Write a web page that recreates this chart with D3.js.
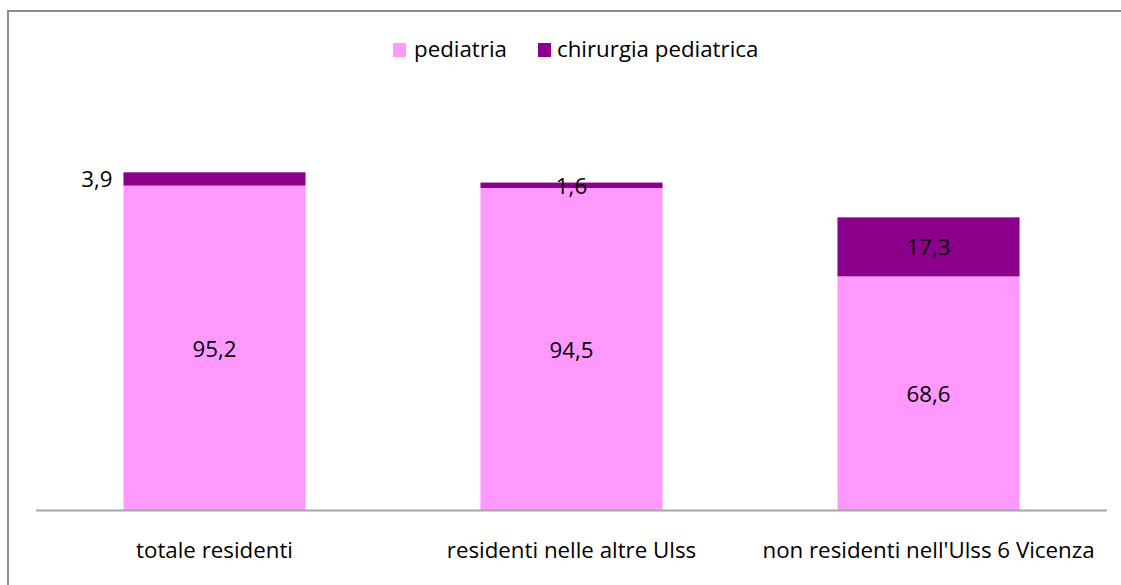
<!DOCTYPE html>
<html>
<head>
<meta charset="utf-8">
<script src="https://cdn.jsdelivr.net/npm/d3@7"></script>
<style>
  html, body { margin: 0; padding: 0; background: #fff; }
  svg { display: block; font-family: "Open Sans", Lato, sans-serif; }
</style>
</head>
<body>
<svg id="chart" width="1121" height="585"></svg>
<script>
const categories = ["totale residenti", "residenti nelle altre Ulss", "non residenti nell'Ulss 6 Vicenza"];
const seriesNames = ["pediatria", "chirurgia pediatrica"];
const pediatria = [95.2, 94.5, 68.6];
const chirurgia = [3.9, 1.6, 17.3];
const labelsPediatria = ["95,2", "94,5", "68,6"];
const labelsChirurgia = ["3,9", "1,6", "17,3"];
const colors = ["#ff99ff", "#8b008b"];

const svg = d3.select("#chart");
const W = 1121, H = 585;
const fs = 22.3;

// outer frame
svg.append("rect").attr("x", 8).attr("y", 11).attr("width", W + 20).attr("height", H + 20)
  .attr("fill", "none").attr("stroke", "#8c8c8c").attr("stroke-width", 2);

const plotLeft = 36, plotRight = 1107, plotBottom = 510.5, plotTop = 101;

const x = d3.scaleBand().domain(categories).range([plotLeft, plotRight]).paddingInner(0.49).paddingOuter(0.245);
const y = d3.scaleLinear().domain([0, 120]).range([plotBottom, plotTop]);

const rows = categories.map((c, i) => ({ cat: c, pediatria: pediatria[i], chirurgia: chirurgia[i], i }));
const stack = d3.stack().keys(["pediatria", "chirurgia"])(rows);

const g = svg.append("g");
stack.forEach((layer, k) => {
  g.selectAll(null).data(layer).enter().append("rect")
    .attr("x", d => x(d.data.cat))
    .attr("width", x.bandwidth())
    .attr("y", d => y(d[1]))
    .attr("height", d => y(d[0]) - y(d[1]))
    .attr("fill", colors[k]);
});

// axis line
svg.append("line").attr("x1", plotLeft).attr("x2", plotRight).attr("y1", plotBottom).attr("y2", plotBottom)
  .attr("stroke", "#a6a6a6").attr("stroke-width", 2);

// category labels
svg.selectAll(null).data(categories).enter().append("text")
  .attr("x", d => x(d) + x.bandwidth() / 2)
  .attr("y", 558)
  .attr("text-anchor", "middle")
  .attr("font-size", fs)
  .attr("fill", "#000")
  .text(d => d);

// data labels
stack[0].forEach((d, i) => {
  svg.append("text")
    .attr("x", x(d.data.cat) + x.bandwidth() / 2)
    .attr("y", (y(d[0]) + y(d[1])) / 2)
    .attr("dy", "0.38em")
    .attr("text-anchor", "middle")
    .attr("font-size", fs)
    .text(labelsPediatria[i]);
});
stack[1].forEach((d, i) => {
  const cy = (y(d[0]) + y(d[1])) / 2;
  const t = svg.append("text")
    .attr("y", cy)
    .attr("dy", "0.38em")
    .attr("font-size", fs)
    .text(labelsChirurgia[i]);
  if (i === 0) {
    t.attr("x", x(d.data.cat) - 11).attr("text-anchor", "end");
  } else {
    t.attr("x", x(d.data.cat) + x.bandwidth() / 2).attr("text-anchor", "middle");
  }
});

// legend
const legendItems = [
  { name: seriesNames[0], color: colors[0], sx: 393, tx: 414 },
  { name: seriesNames[1], color: colors[1], sx: 538, tx: 557 }
];
legendItems.forEach(it => {
  svg.append("rect").attr("x", it.sx).attr("y", 43).attr("width", 13).attr("height", 14).attr("fill", it.color);
  svg.append("text").attr("x", it.tx).attr("y", 57).attr("font-size", fs).text(it.name);
});
</script>
</body>
</html>
